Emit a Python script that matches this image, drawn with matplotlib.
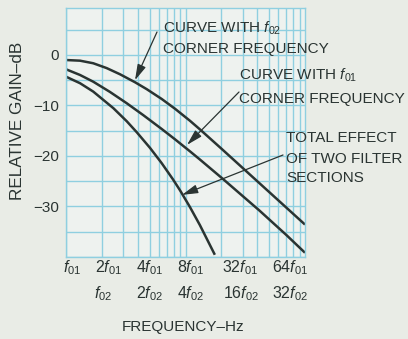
import matplotlib
matplotlib.use("Agg")
import matplotlib.pyplot as plt

# curves (frequency in units of f01, gain in dB)
freq_f02 = [1, 1.31, 1.69, 2.19, 2.83, 3.78, 4.73, 6.32, 8.17, 10.9, 13.2, 20, 31.4, 50, 70, 100]
gain_f02 = [-1.0, -1.13, -1.64, -2.6, -3.82, -5.4, -6.76, -8.71, -10.65, -13.03, -14.73,
            -18.56, -22.77, -27.11, -30.25, -33.58]

freq_f01 = [1, 1.31, 1.69, 2.33, 3.22, 4.43, 6.32, 8.17, 10.9, 13.2, 20.6, 41.6, 70, 100]
gain_f01 = [-2.83, -3.96, -5.29, -7.31, -9.55, -11.91, -14.65, -16.7, -19.08, -20.7, -24.56,
            -30.81, -35.67, -39.16]

freq_total = [1, 1.31, 1.69, 2.49, 3.22, 3.9, 5.04, 6.32, 7.85, 9.0, 10.9, 13.2, 17.6]
gain_total = [-4.3, -5.59, -7.25, -10.53, -13.11, -15.27, -18.38, -21.42, -24.62, -26.8,
              -30.12, -33.69, -39.56]

ytick_vals = [0, -10, -20, -30]
ytick_labels = ["0", "\u221210", "\u221220", "\u221230"]

F01 = r"$\mathit{f}_{\mathrm{01}}$"
F02 = r"$\mathit{f}_{\mathrm{02}}$"
row1_freq = [1, 2, 4, 8, 32, 64]
row1_labels = [F01, "2" + F01, "4" + F01, "8" + F01, "32" + F01, "64" + F01]
row2_freq = [2, 4, 8, 32, 64]
row2_labels = [F02, "2" + F02, "4" + F02, "16" + F02, "32" + F02]

W, H = 408, 339
INK = "#2a3432"
GRID = "#8fcfe0"

plt.rcParams["font.family"] = ["Liberation Sans", "DejaVu Sans"]
plt.rcParams["mathtext.fontset"] = "custom"
plt.rcParams["mathtext.rm"] = "Liberation Sans"
plt.rcParams["mathtext.it"] = "Liberation Sans:italic"
FS = 11.0


def px(x, y):
    return (x / W, 1 - y / H)


fig = plt.figure(figsize=(W / 100, H / 100), dpi=100, facecolor="#e9ece6")
ax = fig.add_axes([66 / W, 1 - 257 / H, (305 - 66) / W, (257 - 8) / H], facecolor="#eef2ef")
ax.set_xscale("log")
ax.set_xlim(1, 100)
ax.set_ylim(-40, 9.3)

# log-paper grid
for dec in (1, 10):
    for k in range(1, 10):
        ax.axvline(dec * k, color=GRID, lw=1.0, zorder=0)
for g in range(-40, 10, 5):
    ax.axhline(g, color=GRID, lw=1.0, zorder=0)
for s in ax.spines.values():
    s.set_color(GRID)
    s.set_linewidth(1.0)

for fx, gy in [(freq_f02, gain_f02), (freq_f01, gain_f01), (freq_total, gain_total)]:
    ax.plot(fx, gy, color=INK, lw=1.8, solid_capstyle="butt", solid_joinstyle="round")

ax.set_xticks([])
ax.set_xticks([], minor=True)
ax.set_yticks(ytick_vals)
ax.set_yticklabels(ytick_labels)
ax.tick_params(axis="y", length=0, pad=5, labelsize=FS, labelcolor=INK)

# frequency labels, two rows under the grid
row1_dx = [6, 7, 12, 17, -6, 8]
row2_dx = [1, 12, 17, -5, 8]
for f, lab, dx in zip(row1_freq, row1_labels, row1_dx):
    ax.annotate(lab, xy=(f, 0), xycoords=("data", "axes fraction"),
                xytext=(dx * 0.72, -15 * 0.72), textcoords="offset points",
                ha="center", va="baseline", fontsize=FS + 0.5, color=INK)
for f, lab, dx in zip(row2_freq, row2_labels, row2_dx):
    ax.annotate(lab, xy=(f, 0), xycoords=("data", "axes fraction"),
                xytext=(dx * 0.72, -41 * 0.72), textcoords="offset points",
                ha="center", va="baseline", fontsize=FS + 0.5, color=INK)

fig.text(*px(18, 121), "RELATIVE GAIN\u2013dB", rotation=90, ha="center", va="center",
         fontsize=12.3, color=INK)
fig.text(*px(183, 327), "FREQUENCY\u2013Hz", ha="center", va="center", fontsize=FS, color=INK)

# callouts
notes = [
    (163, 33, "CURVE WITH " + F02), (163, 53, "CORNER FREQUENCY"),
    (239, 80, "CURVE WITH " + F01), (239, 103, "CORNER FREQUENCY"),
    (286, 142, "TOTAL EFFECT"), (286, 163, "OF TWO FILTER"), (286, 182, "SECTIONS"),
]
for x, y, s in notes:
    fig.text(*px(x, y), s, ha="left", va="baseline", fontsize=FS, color=INK)

arrows = [((3.78, -5.0), (157, 32)), ((10.3, -17.8), (239, 92)), ((9.35, -27.7), (283, 155))]
for tip, tail in arrows:
    ax.annotate("", xy=tip, xycoords="data", xytext=px(*tail), textcoords="figure fraction",
                arrowprops=dict(arrowstyle="-|>,head_length=0.8,head_width=0.22", color=INK,
                                lw=0.9, mutation_scale=12, shrinkA=0, shrinkB=0),
                annotation_clip=False)

fig.savefig("out.png", dpi=100, facecolor=fig.get_facecolor())
